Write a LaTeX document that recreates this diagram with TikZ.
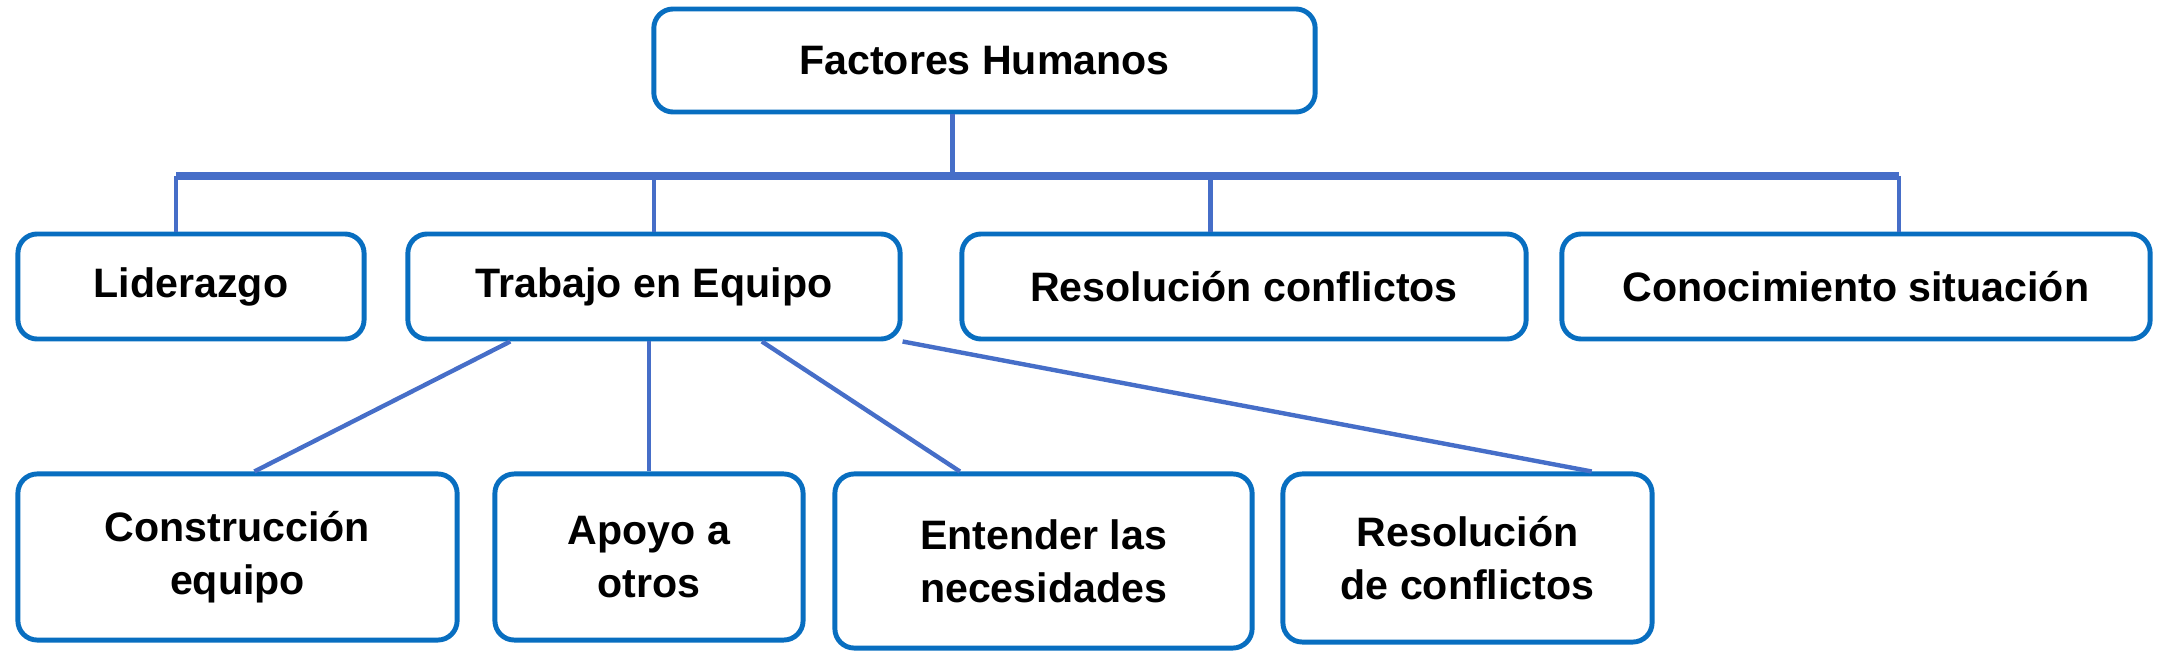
\documentclass[tikz,border=0pt]{standalone}
\usepackage{fontspec}
\setmainfont{Liberation Sans}
\usetikzlibrary{calc}
\definecolor{boxblue}{RGB}{8,110,192}
\definecolor{linkblue}{RGB}{70,110,200}
\tikzset{
  topic/.style={draw=boxblue, line width=1.4pt, rounded corners=5.5pt, fill=white,
    align=center, inner sep=0pt, font=\fontsize{11.7}{15}\selectfont\bfseries},
  link/.style={draw=linkblue, line width=1.25pt},
  bar/.style={draw=linkblue, line width=2.4pt}
}

\begin{document}
\begin{tikzpicture}[x=0.01cm,y=-0.01cm]
                \useasboundingbox (0,0) rectangle (2157,658);
                \node[topic, minimum width=6.61cm, minimum height=1.03cm] (fh) at (984.5,60.5) {Factores Humanos};
                \node[topic, minimum width=3.46cm, minimum height=1.05cm] (lid) at (191,286.5) {Liderazgo};
                \node[topic, minimum width=4.92cm, minimum height=1.05cm] (trab) at (654,286.5) {Trabajo en Equipo};
                \node[topic, minimum width=5.64cm, minimum height=1.05cm] (resc) at (1244,286.5) {Resolución conflictos};
                \node[topic, minimum width=5.88cm, minimum height=1.05cm] (con) at (1856,286.5) {Conocimiento situación};
                \node[topic, minimum width=4.39cm, minimum height=1.66cm] (cons) at (237.5,557) {Construcción\\equipo};
                \node[topic, minimum width=3.08cm, minimum height=1.66cm] (apoyo) at (649,557) {Apoyo a\\otros};
                \node[topic, minimum width=4.17cm, minimum height=1.74cm] (ent) at (1043.5,561) {Entender las\\necesidades};
                \node[topic, minimum width=3.69cm, minimum height=1.68cm] (resd) at (1467.5,558) {Resolución\\de conflictos};
                \coordinate (barL) at (176,176);
                \coordinate (barR) at (1899,176);
                \coordinate (trunk) at ($(fh.south west)!0.452!(fh.south east)$);
                \coordinate (rdrop) at ($(resc.north west)!0.441!(resc.north east)$);
                \draw[bar] (barL) -- (barR);
                \draw[link] (trunk) -- (trunk |- barL);
                \draw[link] (barL) -- (lid.north -| barL);
                \draw[link] (trab.north |- barL) -- (trab.north);
                \draw[link] (rdrop |- barL) -- (rdrop);
                \draw[link] (barR) -- (con.north -| barR);
                \draw[link] ($(trab.south west)!0.211!(trab.south east)$) -- ($(cons.north west)!0.538!(cons.north east)$);
                \draw[link] (apoyo.north |- trab.south) -- (apoyo.north);
                \draw[link] ($(trab.south west)!0.717!(trab.south east)$) -- ($(ent.north west)!0.302!(ent.north east)$);
                \draw[link] (trab.south east) -- ($(resd.north west)!0.832!(resd.north east)$);
            \end{tikzpicture}
\end{document}
